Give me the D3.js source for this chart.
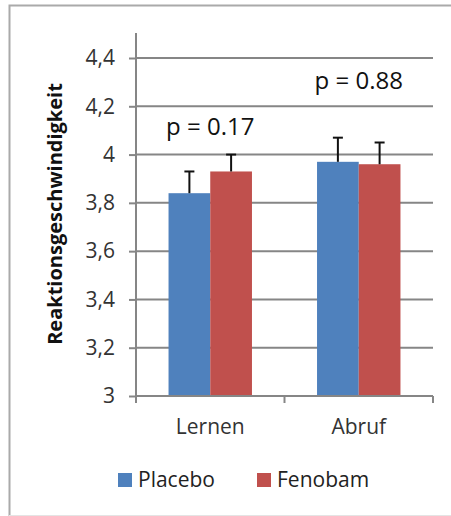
<!DOCTYPE html>
<html>
<head>
<meta charset="utf-8">
<script src="https://cdn.jsdelivr.net/npm/d3@7"></script>
<style>
  body { margin: 0; background: #fff; }
  svg { display: block; font-family: "Open Sans", "Noto Sans", sans-serif; }
</style>
</head>
<body>
<svg id="chart"></svg>
<script>
// data
const categories = ["Lernen", "Abruf"];
const series = ["Placebo", "Fenobam"];
const colors = ["#4f81bd", "#c0504d"];
const values = [[3.84, 3.93], [3.97, 3.96]]; // [category][series]
const errors = [[0.09, 0.07], [0.10, 0.09]];
const pLabels = ["p = 0.17", "p = 0.88"];
const pLevels = [4.08, 4.27];
const yTicks = [3, 3.2, 3.4, 3.6, 3.8, 4, 4.2, 4.4];

const W = 451, H = 516;
const margin = { top: 58, right: 18, bottom: 120, left: 136 };
const width = W - margin.left - margin.right;
const height = H - margin.top - margin.bottom;
const font = '"Open Sans", "Noto Sans", sans-serif';

const root = d3.select("#chart").attr("width", W).attr("height", H);

// outer frame
root.append("path")
  .attr("d", `M9.5,${H}V5.5H${W}`)
  .attr("fill", "none").attr("stroke", "#aaa").attr("stroke-width", 2);
root.append("line")
  .attr("x1", 9).attr("x2", W).attr("y1", 515.5).attr("y2", 515.5)
  .attr("stroke", "#e4e4e4");

const svg = root.append("g").attr("transform", `translate(${margin.left},${margin.top})`);

const y = d3.scaleLinear().domain([3, 4.4]).range([height, 0]);
const x0 = d3.scaleBand().domain(categories).range([0, width]).paddingInner(0).paddingOuter(0);
const x1 = d3.scaleBand().domain(series).range([0, x0.bandwidth()]).paddingOuter(0.78);

// gridlines
svg.append("g")
  .selectAll("line")
  .data(yTicks.slice(1))
  .join("line")
  .attr("x1", 0).attr("x2", width)
  .attr("y1", d => y(d)).attr("y2", d => y(d))
  .attr("stroke", "#868686").attr("stroke-width", 2);

// y axis
const yAxis = svg.append("g")
  .call(d3.axisLeft(y).tickValues(yTicks).tickSize(7).tickPadding(14)
    .tickFormat(d => d3.format("~g")(d).replace(".", ",")));
yAxis.attr("font-family", font);
yAxis.select(".domain").attr("stroke", "#868686").attr("stroke-width", 2)
  .attr("d", `M0,${height}V-25`);
yAxis.selectAll(".tick line").attr("stroke", "#868686").attr("stroke-width", 2);
yAxis.selectAll(".tick text").style("font-size", "21px").attr("fill", "#333");

// bars
const groups = svg.selectAll("g.cat")
  .data(categories)
  .join("g")
  .attr("class", "cat")
  .attr("transform", d => `translate(${x0(d)},0)`);

groups.selectAll("rect")
  .data((d, i) => series.map((s, j) => ({ s, j, v: values[i][j] })))
  .join("rect")
  .attr("x", d => x1(d.s))
  .attr("width", x1.bandwidth())
  .attr("y", d => y(d.v))
  .attr("height", d => y(3) - y(d.v))
  .attr("fill", d => colors[d.j]);

// error bars (upper only)
const err = groups.selectAll("g.err")
  .data((d, i) => series.map((s, j) => ({ s, v: values[i][j], e: errors[i][j] })))
  .join("g")
  .attr("class", "err")
  .attr("stroke", "#111").attr("stroke-width", 2);
err.append("line")
  .attr("x1", d => x1(d.s) + x1.bandwidth() / 2).attr("x2", d => x1(d.s) + x1.bandwidth() / 2)
  .attr("y1", d => y(d.v)).attr("y2", d => y(d.v + d.e));
err.append("line")
  .attr("x1", d => x1(d.s) + x1.bandwidth() / 2 - 5).attr("x2", d => x1(d.s) + x1.bandwidth() / 2 + 5)
  .attr("y1", d => y(d.v + d.e)).attr("y2", d => y(d.v + d.e));

// x axis
const xAxis = svg.append("g")
  .attr("transform", `translate(0,${height})`)
  .call(d3.axisBottom(x0).tickSize(0).tickPadding(23));
xAxis.attr("font-family", font);
xAxis.select(".domain").attr("stroke", "#868686").attr("stroke-width", 2)
  .attr("d", `M0,0H${width}`);
xAxis.selectAll(".tick text").style("font-size", "21px").attr("fill", "#333");
svg.append("g")
  .selectAll("line")
  .data([0, width / 2, width])
  .join("line")
  .attr("x1", d => d).attr("x2", d => d)
  .attr("y1", height).attr("y2", height + 7)
  .attr("stroke", "#868686").attr("stroke-width", 2);

// p-value labels
svg.selectAll("text.p")
  .data(categories)
  .join("text")
  .attr("class", "p")
  .attr("x", d => x0(d) + x0.bandwidth() / 2)
  .attr("y", (d, i) => y(pLevels[i]))
  .attr("text-anchor", "middle")
  .style("font-size", "24px")
  .attr("fill", "#111")
  .text((d, i) => pLabels[i]);

// y title
root.append("text")
  .attr("transform", `translate(62,${margin.top + height / 2 - 13}) rotate(-90)`)
  .attr("text-anchor", "middle")
  .style("font-size", "20px")
  .attr("font-weight", "bold")
  .attr("fill", "#111")
  .text("Reaktionsgeschwindigkeit");

// legend
const legend = root.append("g").attr("transform", "translate(118,473)");
const items = legend.selectAll("g")
  .data(series)
  .join("g")
  .attr("transform", (d, i) => `translate(${i * 139},0)`);
items.append("rect").attr("width", 14).attr("height", 14).attr("fill", (d, i) => colors[i]);
items.append("text").attr("x", 20).attr("y", 14)
  .style("font-size", "21px").attr("fill", "#222").text(d => d);
</script>
</body>
</html>
